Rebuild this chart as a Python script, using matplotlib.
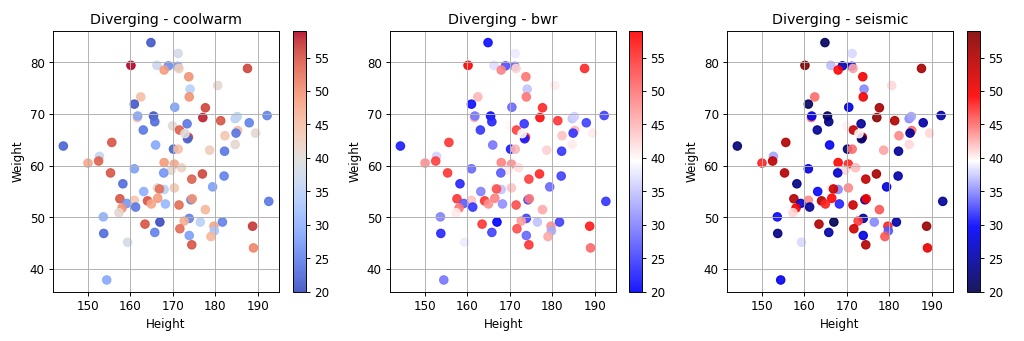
import numpy as np
import matplotlib.pyplot as plt

height = [164.9, 171.3, 160.2, 166.3, 169.0, 171.2, 171.5, 168.0, 187.6, 173.8,
          180.6, 174.1, 173.9, 162.5, 161.0, 170.5, 177.7, 177.1, 161.7, 161.8,
          165.5, 165.8, 181.3, 184.7, 185.2, 192.2, 188.0, 173.4, 170.0, 171.6,
          185.3, 184.9, 163.1, 182.3, 189.5, 173.7, 173.5, 172.9, 184.7, 155.7,
          144.3, 166.0, 170.2, 171.3, 178.7, 182.2, 152.8, 152.6, 150.1, 168.0,
          170.4, 172.1, 169.6, 161.0, 167.9, 155.4, 177.0, 182.1, 158.3, 179.4,
          174.5, 166.4, 168.0, 166.9, 170.4, 163.2, 157.6, 164.1, 166.5, 174.3,
          174.6, 161.0, 192.6, 159.2, 158.1, 157.4, 171.5, 165.0, 168.3, 161.3,
          177.7, 153.7, 173.9, 176.5, 167.0, 172.7, 181.7, 163.5, 188.8, 179.7,
          179.8, 171.7, 153.8, 165.8, 179.0, 173.9, 174.5, 159.4, 189.0, 154.5]
weight = [83.8, 81.7, 79.4, 79.4, 79.3, 79.2, 78.8, 78.5, 78.8, 77.2,
          75.5, 74.8, 73.3, 73.3, 71.9, 71.3, 71.2, 69.3, 69.3, 69.6,
          69.6, 68.5, 68.7, 69.1, 69.5, 69.7, 68.3, 68.1, 67.7, 66.9,
          66.8, 66.3, 66.9, 65.8, 66.3, 65.5, 65.2, 66.2, 64.1, 64.5,
          63.8, 64.0, 63.2, 63.2, 63.0, 62.8, 61.8, 60.9, 60.5, 60.6,
          60.3, 59.6, 59.1, 59.4, 58.6, 58.6, 58.4, 58.0, 56.5, 55.9,
          57.4, 55.7, 55.4, 55.5, 55.7, 55.0, 53.6, 53.2, 53.7, 53.4,
          53.6, 53.3, 53.1, 52.7, 51.8, 50.9, 52.4, 52.6, 52.6, 52.0,
          51.5, 50.1, 49.8, 49.1, 49.1, 49.3, 49.1, 48.7, 48.3, 48.3,
          47.4, 47.8, 46.9, 47.1, 46.3, 46.5, 44.7, 45.2, 44.1, 37.9]
age = [21, 38, 59, 37, 26, 28, 43, 49, 56, 50,
       41, 35, 50, 45, 21, 28, 56, 58, 45, 29,
       21, 23, 55, 35, 36, 25, 25, 24, 40, 54,
       45, 24, 24, 44, 41, 56, 22, 40, 41, 55,
       22, 29, 22, 45, 43, 24, 36, 54, 48, 49,
       48, 42, 41, 28, 27, 55, 56, 25, 23, 28,
       54, 40, 35, 53, 44, 30, 55, 55, 49, 25,
       50, 44, 24, 27, 50, 41, 53, 48, 31, 24,
       46, 30, 25, 35, 20, 47, 25, 55, 57, 48,
       33, 53, 23, 25, 46, 28, 55, 38, 51, 29]

cmaps = ['coolwarm', 'bwr', 'seismic']
ax_left = [0.0518, 0.381, 0.710]
cb_left = [0.286, 0.614, 0.944]

fig = plt.figure(figsize=(12, 4), dpi=1024 / 12)

for i, name in enumerate(cmaps):
    ax = fig.add_axes([ax_left[i], 0.144, 0.2207, 0.765])
    sc = ax.scatter(height, weight, c=age, cmap=name, s=50, alpha=0.9)
    ax.set_title('Diverging - ' + name)
    ax.set_xlabel('Height')
    ax.set_ylabel('Weight')
    ax.grid(True)
    cax = fig.add_axes([cb_left[i], 0.144, 0.0127, 0.765])
    fig.colorbar(sc, cax=cax)

plt.savefig('out.png')
